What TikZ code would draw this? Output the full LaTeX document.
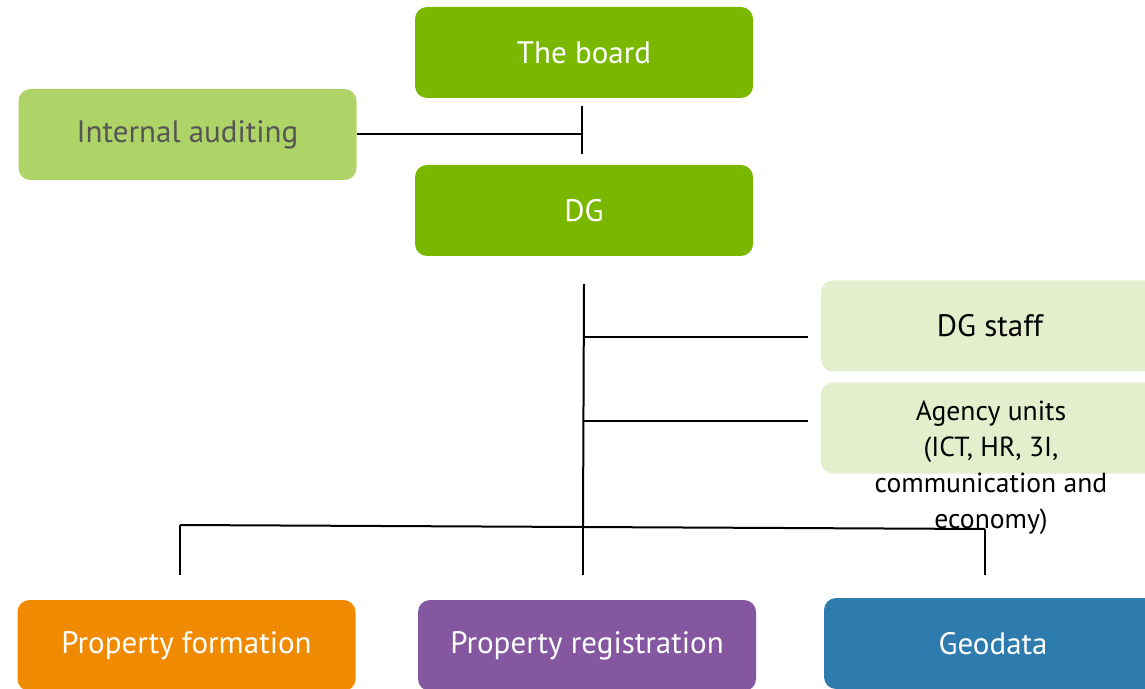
\documentclass[tikz,border=0pt]{standalone}
\usepackage{fontspec}
\setmainfont{PT Sans}
\usetikzlibrary{positioning}

\definecolor{leadgreen}{HTML}{7AB800}
\definecolor{auditgreen}{HTML}{AED468}
\definecolor{staffgreen}{HTML}{E3EFCC}
\definecolor{auditgray}{HTML}{555555}
\definecolor{formorange}{HTML}{F08A00}
\definecolor{regpurple}{HTML}{8557A0}
\definecolor{geoblue}{HTML}{2E7BAD}

\tikzset{
  unitbox/.style={rounded corners=6pt, minimum width=169pt, minimum height=45.5pt,
    inner sep=0pt, text=white, font=\fontsize{15.5}{18}\selectfont},
  link/.style={line width=1pt, black},
}

\begin{document}
\begin{tikzpicture}[x=0.5pt,y=-0.5pt]
\useasboundingbox (0,0) rectangle (1145,689);

% management
\node[unitbox,fill=leadgreen] (board) at (584,52.5) {The board};
\node[unitbox,fill=auditgreen,text=auditgray] (audit) at (187.5,134.5) {Internal auditing};
\node[unitbox,fill=leadgreen] (dg) at (584,210.5) {DG};

% staff side
\node[unitbox,fill=staffgreen,text=black] (staff) at (990,326) {DG staff};
\node[unitbox,fill=staffgreen] (agency) at (990,428) {};
\node[align=center,text=black,inner sep=0pt,font=\fontsize{13.8}{18}\selectfont] (agencytext) at (991,468)
  {Agency units\\(ICT, HR, 3I,\\communication and\\economy)};

% departments
\node[unitbox,fill=formorange] (formation) at (186.5,645.5) {Property formation};
\node[unitbox,fill=regpurple] (registration) at (587,645.5) {Property registration};
\node[unitbox,fill=geoblue] (geodata) at (993,643.5) {Geodata};

% connector points
\coordinate (ticktop) at (582,106);
\coordinate (tickbot) at (582,154);
\coordinate (trunktop) at (584,284);
\coordinate (trunkbot) at (583,525);
\coordinate (staffend) at (808,337);
\coordinate (agencyend) at (808,421);
\coordinate (busleft) at (180,525);
\coordinate (busright) at (985,529);
\coordinate (formtop) at (180,575);
\coordinate (regtop) at (583,575);
\coordinate (geotop) at (985,575);

\draw[link] (audit.east) -- (audit.east -| ticktop);
\draw[link] (ticktop) -- (tickbot);
\draw[link] (trunktop) -- (trunkbot);
\draw[link] (trunktop |- staffend) -- (staffend);
\draw[link] (trunktop |- agencyend) -- (agencyend);
\draw[link] (busleft) -- (busright);
\draw[link] (busleft) -- (formtop);
\draw[link] (trunkbot) -- (regtop);
\draw[link] (busright) -- (geotop);
\end{tikzpicture}
\end{document}
